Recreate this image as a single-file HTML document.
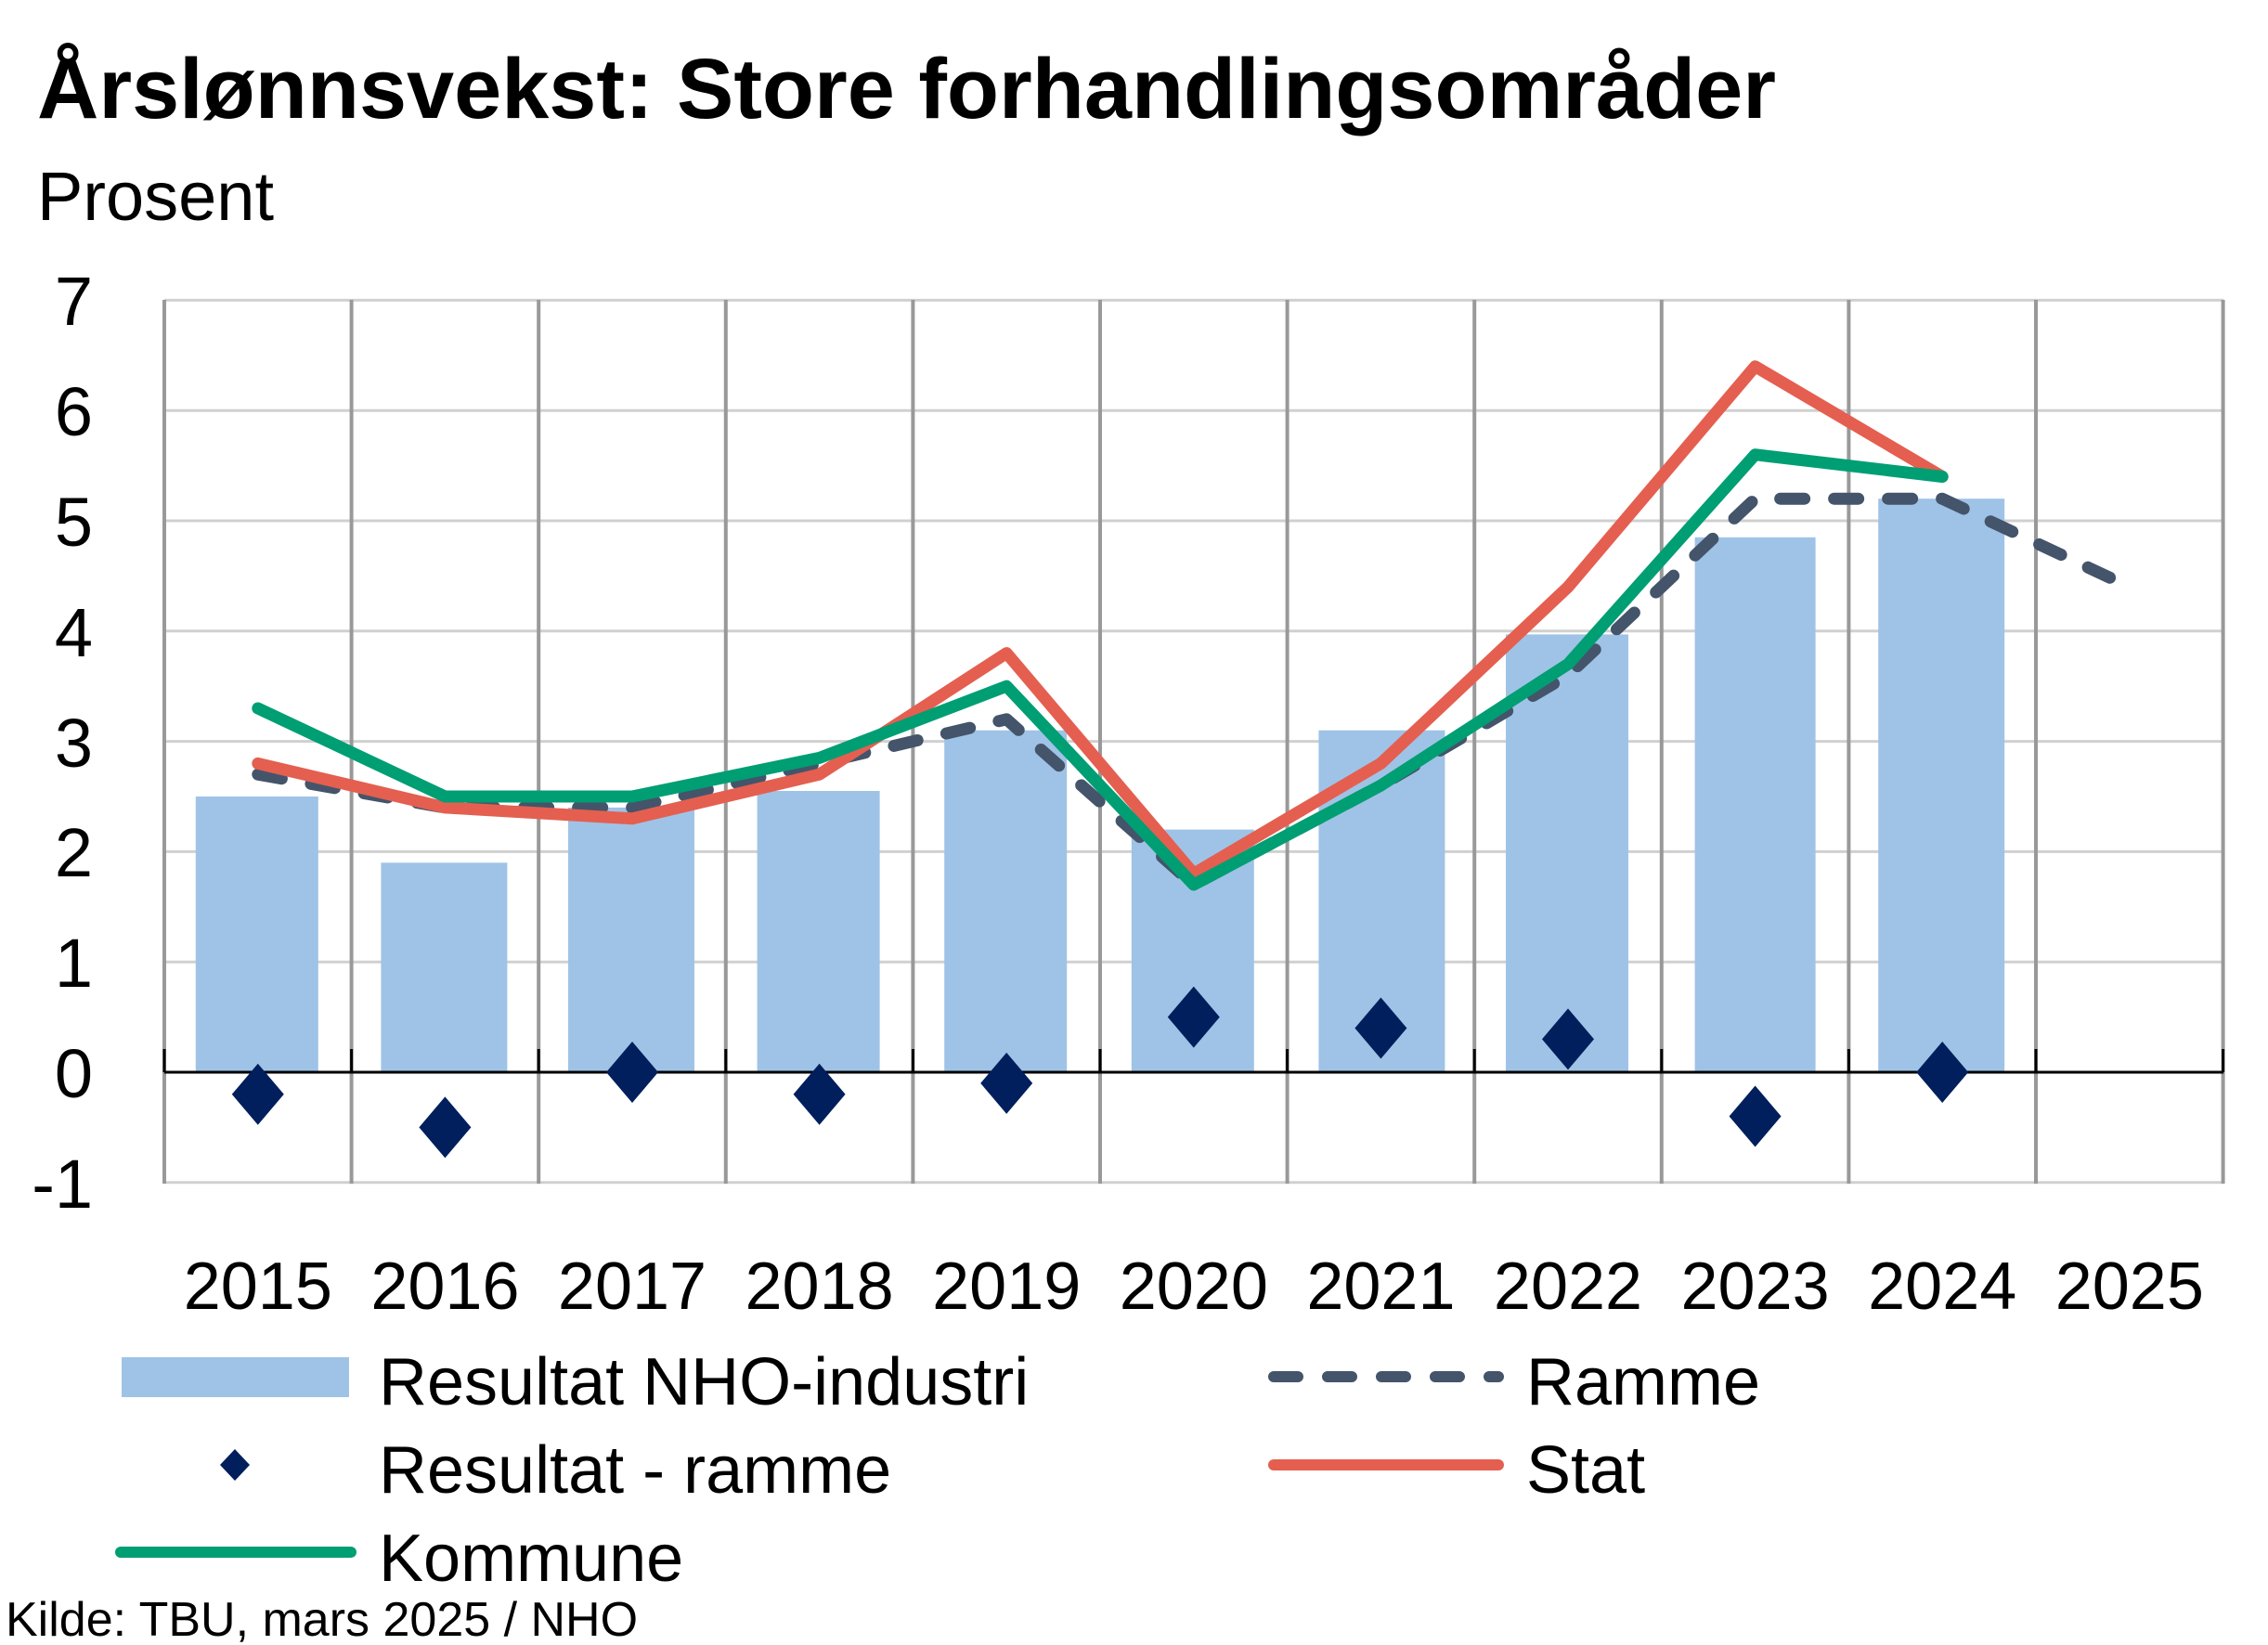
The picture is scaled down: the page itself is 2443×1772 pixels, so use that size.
<!DOCTYPE html>
<html><head><meta charset="utf-8"><style>html,body{margin:0;padding:0;background:#fff}svg{display:block}</style></head><body>
<svg width="2443" height="1772" viewBox="0 0 2443 1772" xmlns="http://www.w3.org/2000/svg" font-family="'Liberation Sans', 'DejaVu Sans', sans-serif">
<text x="40" y="127" font-size="92" font-weight="bold" textLength="1873" lengthAdjust="spacingAndGlyphs">Årslønnsvekst: Store forhandlingsområder</text>
<text x="40" y="237" font-size="74">Prosent</text>
<g stroke="#d0d0d0" stroke-width="3">
<line x1="177" x2="2395" y1="323.4" y2="323.4"/><line x1="177" x2="2395" y1="442.2" y2="442.2"/><line x1="177" x2="2395" y1="561" y2="561"/><line x1="177" x2="2395" y1="679.8" y2="679.8"/><line x1="177" x2="2395" y1="798.6" y2="798.6"/><line x1="177" x2="2395" y1="917.4" y2="917.4"/><line x1="177" x2="2395" y1="1036.2" y2="1036.2"/><line x1="177" x2="2395" y1="1273.8" y2="1273.8"/>
</g>
<g stroke="#999" stroke-width="4">
<line x1="177" x2="177" y1="323" y2="1275"/><line x1="378.6" x2="378.6" y1="323" y2="1275"/><line x1="580.2" x2="580.2" y1="323" y2="1275"/><line x1="781.8" x2="781.8" y1="323" y2="1275"/><line x1="983.4" x2="983.4" y1="323" y2="1275"/><line x1="1185" x2="1185" y1="323" y2="1275"/><line x1="1386.6" x2="1386.6" y1="323" y2="1275"/><line x1="1588.2" x2="1588.2" y1="323" y2="1275"/><line x1="1789.8" x2="1789.8" y1="323" y2="1275"/><line x1="1991.4" x2="1991.4" y1="323" y2="1275"/><line x1="2193" x2="2193" y1="323" y2="1275"/><line x1="2394.6" x2="2394.6" y1="323" y2="1275"/>
</g>
<g fill="#9fc3e6">
<rect x="210.8" y="858" width="132" height="297"/><rect x="410.4" y="929.3" width="136" height="225.7"/><rect x="612" y="869.9" width="136" height="285.1"/><rect x="815.6" y="852" width="132" height="303"/><rect x="1017.2" y="786.7" width="132" height="368.3"/><rect x="1218.8" y="893.6" width="132" height="261.4"/><rect x="1420.4" y="786.7" width="136" height="368.3"/><rect x="1622" y="683.4" width="132" height="471.6"/><rect x="1825.6" y="578.8" width="130" height="576.2"/><rect x="2023.2" y="537.2" width="136" height="617.8"/>
</g>
<g stroke="#000" stroke-width="3">
<line x1="177" x2="2395" y1="1155" y2="1155"/>
<line x1="177" x2="177" y1="1130" y2="1155"/><line x1="378.6" x2="378.6" y1="1130" y2="1155"/><line x1="580.2" x2="580.2" y1="1130" y2="1155"/><line x1="781.8" x2="781.8" y1="1130" y2="1155"/><line x1="983.4" x2="983.4" y1="1130" y2="1155"/><line x1="1185" x2="1185" y1="1130" y2="1155"/><line x1="1386.6" x2="1386.6" y1="1130" y2="1155"/><line x1="1588.2" x2="1588.2" y1="1130" y2="1155"/><line x1="1789.8" x2="1789.8" y1="1130" y2="1155"/><line x1="1991.4" x2="1991.4" y1="1130" y2="1155"/><line x1="2193" x2="2193" y1="1130" y2="1155"/><line x1="2394.6" x2="2394.6" y1="1130" y2="1155"/>
</g>
<g fill="none" stroke-width="13" stroke-linejoin="round" stroke-linecap="round">
<polyline stroke="#44546a" stroke-dasharray="26,32" points="277.8,834.2 479.4,869.9 681,869.9 882.6,822.4 1084.2,774.8 1285.8,953 1487.4,846.1 1689,727.3 1890.6,537.2 2092.2,537.2 2293.8,632.3"/>
<polyline stroke="#e45f50" points="277.8,822.4 479.4,869.9 681,881.8 882.6,834.2 1084.2,703.6 1285.8,941.2 1487.4,822.4 1689,632.3 1890.6,394.7 2092.2,513.5"/>
<polyline stroke="#009e73" points="277.8,763 479.4,858 681,858 882.6,816.4 1084.2,739.2 1285.8,953 1487.4,846.1 1689,715.4 1890.6,489.7 2092.2,513.5"/>
</g>
<g fill="#001f5c">
<path d="M277.8,1145.8l28,33l-28,33l-28,-33z"/><path d="M479.4,1181.4l28,33l-28,33l-28,-33z"/><path d="M681,1122l28,33l-28,33l-28,-33z"/><path d="M882.6,1145.8l28,33l-28,33l-28,-33z"/><path d="M1084.2,1133.9l28,33l-28,33l-28,-33z"/><path d="M1285.8,1062.6l28,33l-28,33l-28,-33z"/><path d="M1487.4,1074.5l28,33l-28,33l-28,-33z"/><path d="M1689,1086.4l28,33l-28,33l-28,-33z"/><path d="M1890.6,1169.5l28,33l-28,33l-28,-33z"/><path d="M2092.2,1122l28,33l-28,33l-28,-33z"/>
</g>
<g font-size="74" text-anchor="end">
<text x="100" y="350">7</text><text x="100" y="469">6</text><text x="100" y="588">5</text><text x="100" y="707">4</text><text x="100" y="826">3</text><text x="100" y="944">2</text><text x="100" y="1063">1</text><text x="100" y="1182">0</text><text x="100" y="1301">-1</text>
</g>
<g font-size="72" text-anchor="middle">
<text x="277.8" y="1410">2015</text><text x="479.4" y="1410">2016</text><text x="681" y="1410">2017</text><text x="882.6" y="1410">2018</text><text x="1084.2" y="1410">2019</text><text x="1285.8" y="1410">2020</text><text x="1487.4" y="1410">2021</text><text x="1689" y="1410">2022</text><text x="1890.6" y="1410">2023</text><text x="2092.2" y="1410">2024</text><text x="2293.8" y="1410">2025</text>
</g>
<rect x="131" y="1462" width="245" height="43" fill="#9fc3e6"/>
<path d="M253,1561l16,17l-16,17l-16,-17z" fill="#001f5c"/>
<line x1="130" x2="378" y1="1672" y2="1672" stroke="#009e73" stroke-width="12" stroke-linecap="round"/>
<line x1="1372" x2="1614" y1="1483" y2="1483" stroke="#44546a" stroke-width="12" stroke-linecap="round" stroke-dasharray="26,32"/>
<line x1="1372" x2="1614" y1="1578" y2="1578" stroke="#e45f50" stroke-width="12" stroke-linecap="round"/>
<g font-size="72">
<text x="408" y="1513">Resultat NHO-industri</text>
<text x="408" y="1608">Resultat - ramme</text>
<text x="408" y="1703">Kommune</text>
<text x="1644" y="1513">Ramme</text>
<text x="1644" y="1608">Stat</text>
</g>
<text x="6" y="1762" font-size="52">Kilde: TBU, mars 2025 / NHO</text>
</svg>
</body></html>
